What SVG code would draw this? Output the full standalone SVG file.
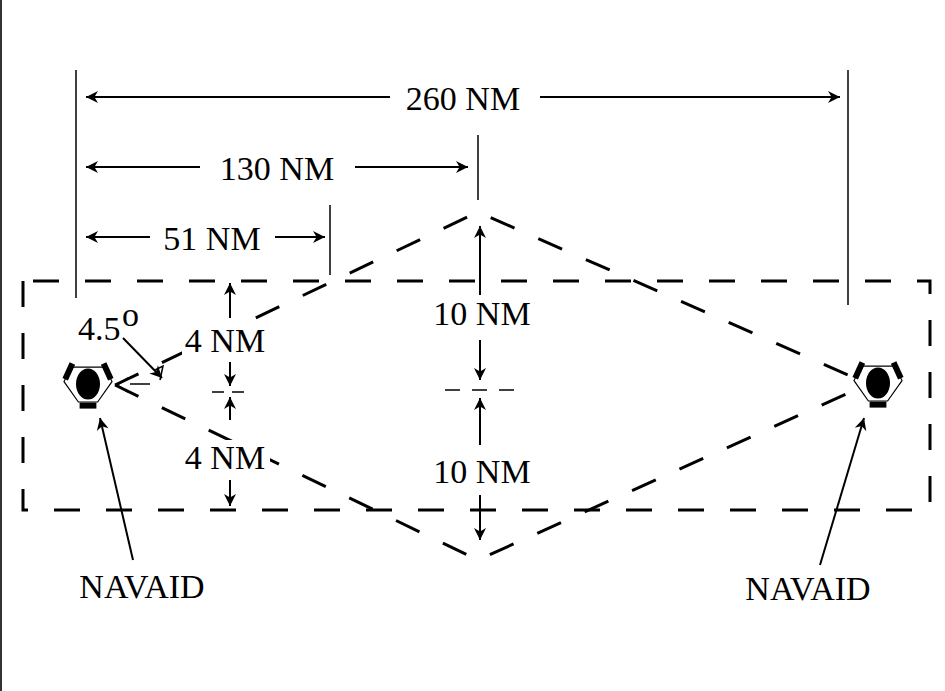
<svg xmlns="http://www.w3.org/2000/svg" width="945" height="691" viewBox="0 0 945 691">
<defs>
<marker id="ah" viewBox="0 0 10 10" refX="10" refY="5" markerWidth="18" markerHeight="12" markerUnits="userSpaceOnUse" orient="auto"><path d="M0,0 L10,5 L0,10 L3,5 z" fill="#000"/></marker>
<g id="nav">
<polygon points="-14,-14 14,-14 20,-2 8,15 -8,15 -20,-2" fill="#fff" stroke="#000" stroke-width="1"/>
<ellipse cx="0" cy="0" rx="10" ry="13" fill="#000"/>
<line x1="-13" y1="-17" x2="-19" y2="-4" stroke="#000" stroke-width="5"/>
<line x1="13" y1="-17" x2="19" y2="-4" stroke="#000" stroke-width="5"/>
<line x1="-7" y1="18" x2="7" y2="18" stroke="#000" stroke-width="5"/>
</g>
</defs>
<style>
text{font-family:"Liberation Serif","Times New Roman",serif;font-size:34px;fill:#000}
.d{stroke:#000;stroke-width:3;stroke-dasharray:26 26;fill:none}
.t{stroke:#000;stroke-width:1.5;fill:none}
.a{stroke:#000;stroke-width:2;fill:none;marker-end:url(#ah)}
.bg{fill:#fff}
</style>
<rect width="945" height="691" fill="#fff"/>
<line x1="1" y1="0" x2="1" y2="691" stroke="#333" stroke-width="2"/>
<g id="connectors">
<rect class="d" x="23" y="281" width="907" height="229" stroke-dashoffset="-10"/>
<polyline class="d" points="115,385 478,212 855,378"/>
<polyline class="d" points="115,385 478,560 855,390"/>
<rect class="bg" x="182" y="322" width="88" height="36"/>
<rect class="bg" x="182" y="440" width="88" height="36"/>
<line class="t" x1="76" y1="70" x2="76" y2="298"/>
<line class="t" x1="848" y1="70" x2="848" y2="305"/>
<line class="t" x1="478" y1="135" x2="478" y2="200"/>
<line class="t" x1="330" y1="205" x2="330" y2="275"/>
<line class="a" x1="390" y1="97" x2="86" y2="97"/>
<line class="a" x1="540" y1="97" x2="840" y2="97"/>
<line class="a" x1="200" y1="167" x2="86" y2="167"/>
<line class="a" x1="355" y1="167" x2="468" y2="167"/>
<line class="a" x1="150" y1="237" x2="86" y2="237"/>
<line class="a" x1="275" y1="237" x2="325" y2="237"/>
<line class="a" x1="230" y1="318" x2="230" y2="283"/>
<line class="a" x1="230" y1="362" x2="230" y2="386"/>
<line class="t" x1="212" y1="392" x2="250" y2="392" stroke-dasharray="12 8"/>
<line class="a" x1="230" y1="420" x2="230" y2="397"/>
<line class="a" x1="230" y1="480" x2="230" y2="506"/>
<line class="a" x1="480" y1="295" x2="480" y2="226"/>
<line class="a" x1="480" y1="340" x2="480" y2="380"/>
<line class="t" x1="445" y1="390" x2="520" y2="390" stroke-dasharray="15 12"/>
<line class="a" x1="480" y1="445" x2="480" y2="398"/>
<line class="a" x1="480" y1="495" x2="480" y2="540"/>
<line class="a" x1="123" y1="338" x2="162" y2="378"/>
<polyline class="t" points="155,370 163,366 160,380" stroke-width="2.5"/>
<polyline class="t" points="128,378 117,385 128,392" stroke-width="3"/>
<line class="t" x1="130" y1="384" x2="150" y2="384" stroke-width="2"/>
<line class="a" x1="133" y1="560" x2="100" y2="418"/>
<line class="a" x1="820" y1="565" x2="864" y2="418"/>
</g>
<g id="navaid-left"><use href="#nav" transform="translate(88 384) scale(1.2)"/></g>
<g id="navaid-right"><use href="#nav" transform="translate(878 383) scale(1.2)"/></g>
<g id="labels">
<text x="463" y="110" text-anchor="middle">260 NM</text>
<text x="277" y="180" text-anchor="middle">130 NM</text>
<text x="212" y="250" text-anchor="middle">51 NM</text>
<text x="78" y="340">4.5</text><text x="122" y="326" font-size="18">o</text>
<text x="225" y="352" text-anchor="middle">4 NM</text>
<text x="225" y="469" text-anchor="middle">4 NM</text>
<text x="482" y="325" text-anchor="middle">10 NM</text>
<text x="482" y="483" text-anchor="middle">10 NM</text>
<text x="142" y="598" text-anchor="middle">NAVAID</text>
<text x="808" y="600" text-anchor="middle">NAVAID</text>
</g>
</svg>
